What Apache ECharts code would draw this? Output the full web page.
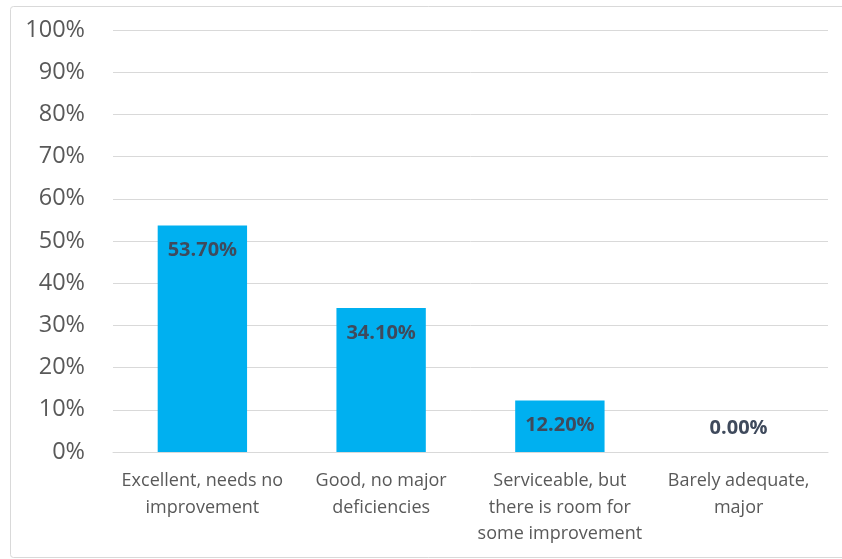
<!DOCTYPE html>
<html><head><meta charset="utf-8">
<script src="https://cdn.jsdelivr.net/npm/echarts@6/dist/echarts.min.js"></script>
<style>html,body{margin:0;padding:0;background:#fff}#c{width:842px;height:559px}</style>
</head><body><div id="c"></div>
<script>
const categories = ["Excellent, needs no\nimprovement", "Good, no major\ndeficiencies", "Serviceable, but\nthere is room for\nsome improvement", "Barely adequate,\nmajor"];
const values = [53.7, 34.1, 12.2, 0.0];
const yTicks = {min: 0, max: 100, interval: 10};

const chart = echarts.init(document.getElementById('c'));
chart.setOption({
  animation: false,
  backgroundColor: '#fff',
  graphic: [{type: 'rect', left: 8, top: 4, shape: {width: 840, height: 551, r: 3}, style: {fill: 'none', stroke: '#D9D9D9', lineWidth: 1}, silent: true}],
  grid: {left: 113, right: 14, top: 30, bottom: 107},
  xAxis: {
    type: 'category', data: categories,
    axisLine: {show: true, lineStyle: {color: '#D9D9D9'}},
    axisTick: {show: false},
    axisLabel: {interval: 0, color: '#595959', fontFamily: 'Open Sans', fontSize: 18, lineHeight: 26.5, margin: 16}
  },
  yAxis: {
    type: 'value', min: yTicks.min, max: yTicks.max, interval: yTicks.interval,
    axisLine: {show: false}, axisTick: {show: false},
    splitLine: {lineStyle: {color: '#D9D9D9'}},
    axisLabel: {formatter: v => v + '%', color: '#595959', fontFamily: 'Open Sans', fontSize: 23.5, margin: 28}
  },
  series: [{
    type: 'bar', barWidth: '50%',
    itemStyle: {color: '#00B0F0'},
    data: values.map(v => v === 0 ? {value: v, label: {position: 'top', distance: 14}} : v),
    label: {
      show: true, position: 'insideTop', distance: 15,
      formatter: p => p.value.toFixed(2) + '%',
      color: '#3F4A5C', fontFamily: 'Open Sans', fontWeight: 'bold', fontSize: 20
    }
  }]
});
</script></body></html>
